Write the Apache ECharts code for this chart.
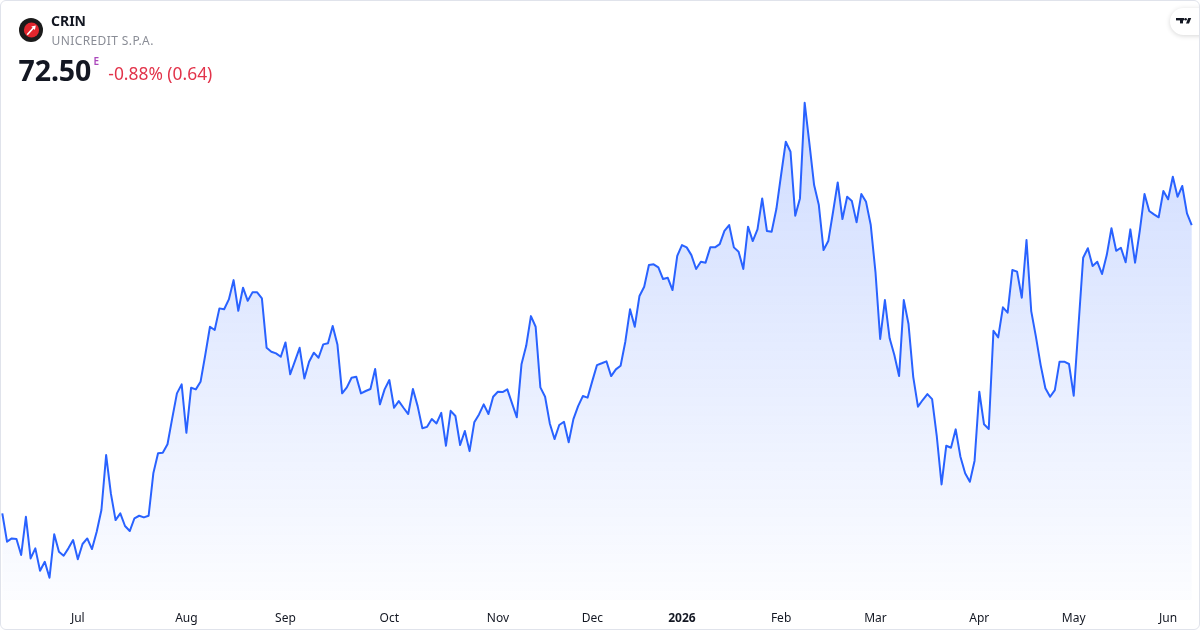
<!DOCTYPE html>
<html>
<head>
<meta charset="utf-8">
<script src="https://cdn.jsdelivr.net/npm/echarts@6/dist/echarts.min.js"></script>
<style>
  html, body { margin: 0; padding: 0; background: #ffffff; }
  #wrap { position: relative; width: 1200px; height: 630px; overflow: hidden; font-family: "Noto Sans", "Open Sans", sans-serif; }
  #chart { position: absolute; left: 0; top: 0; width: 1200px; height: 630px; }
  #frame { position: absolute; left: 0; top: 0; width: 1198px; height: 628px; border: 1px solid #e0e3eb; border-radius: 6px; pointer-events: none; }
  .t { position: absolute; white-space: nowrap; line-height: 1; }
  #logo { position: absolute; left: 19px; top: 18px; width: 24px; height: 24px; }
  #tv { position: absolute; left: 1170px; top: 8px; width: 50px; height: 27px; border-radius: 14px; background: #fff; box-shadow: 0 1px 5px rgba(0,0,0,0.16); }
</style>
</head>
<body>
<div id="wrap">
  <div id="chart"></div>
  <div id="logo">
    <svg width="24" height="24" viewBox="0 0 24 24">
      <circle cx="12" cy="12" r="12" fill="#1b1b1b"/>
      <circle cx="12.5" cy="12" r="7.6" fill="#e1262d"/>
      <polygon points="7.6,16.2 13.6,9.6 12.2,8.6 16.8,7.4 15.9,11.9 14.7,10.8 8.8,17.3" fill="#ffffff"/>
    </svg>
  </div>
  <div id="tv">
    <svg width="30" height="27" viewBox="0 0 30 27">
      <rect x="6" y="10" width="8" height="2.4" fill="#131722"/>
      <rect x="10" y="10" width="3" height="5.4" fill="#131722"/>
      <circle cx="15.6" cy="11.2" r="1.3" fill="#131722"/>
      <polygon points="18.2,10 21.2,10 19,15.4 16,15.4" fill="#131722"/>
    </svg>
  </div>
  <div class="t" id="sym" style="left:51px;top:13.6px;font-size:14px;font-weight:700;color:#131722;"></div>
  <div class="t" id="name" style="left:51.5px;top:35px;font-size:12px;color:#8a8d96;letter-spacing:0.4px;"></div>
  <div class="t" id="price" style="left:18.5px;top:56.3px;font-size:28.5px;font-weight:700;color:#131722;letter-spacing:-0.1px;"></div>
  <div class="t" id="flag" style="left:93.5px;top:56px;font-size:10px;font-weight:600;color:#ab47bc;"></div>
  <div class="t" id="chg" style="left:108.3px;top:65.4px;font-size:17.4px;color:#e2334a;"></div>
  <div id="frame"></div>
</div>
<script>
// ---- header texts ----
const symbol = 'CRIN';
const companyName = 'UNICREDIT S.P.A.';
const lastPrice = '72.50';
const priceFlag = 'E';
const changeText = '-0.88% (0.64)';

// ---- x-axis month ticks (index into the trading-day series) ----
const tickIndex  = [16, 39, 60, 82, 105, 125, 144, 165, 185, 207, 227, 247];
const tickLabels = ['Jul', 'Aug', 'Sep', 'Oct', 'Nov', 'Dec', '2026', 'Feb', 'Mar', 'Apr', 'May', 'Jun'];

// ---- daily closes ----
const prices = [
  56.48, 54.91, 55.09, 55.06, 54.17, 56.29, 53.98, 54.54, 53.29, 53.79,
  52.91, 55.32, 54.35, 54.13, 54.54, 55.00, 53.93, 54.78, 55.09, 54.50,
  55.46, 56.67, 59.72, 57.59, 56.11, 56.48, 55.78, 55.50, 56.21, 56.35,
  56.26, 56.35, 58.71, 59.82, 59.85, 60.32, 61.76, 63.15, 63.65, 60.96,
  63.46, 63.37, 63.79,
  65.28, 66.85, 66.67, 67.87, 67.82, 68.37, 69.44, 67.74, 69.02, 68.29,
  68.76, 68.76, 68.43, 65.68, 65.46, 65.37, 65.18, 65.98, 64.21, 64.94,
  65.68, 63.98, 64.91, 65.41, 65.13, 65.87, 65.93, 66.89, 65.87, 63.15,
  63.48, 64.02, 64.07, 63.15, 63.28, 63.39, 64.50, 62.54,
  63.37, 63.89, 62.35, 62.72, 62.35, 62.00, 63.39, 62.44, 61.21, 61.29,
  61.72, 61.48, 62.07, 60.24, 62.18, 61.89, 60.28, 61.06, 59.94, 61.54,
  61.98, 62.54, 62.00, 62.96, 63.24, 63.22, 63.37, 62.59, 61.82, 64.76,
  65.79, 67.44, 66.85, 63.48, 62.96, 61.48, 60.61, 61.39,
  61.57, 60.43, 61.72, 62.44, 63.00, 62.91, 63.83, 64.72, 64.82, 64.93,
  64.11, 64.48, 64.68, 66.02, 67.82, 66.85, 68.56, 69.07, 70.28, 70.32,
  70.15, 69.50, 69.57, 68.89, 70.79, 71.39, 71.26, 70.83, 70.06, 70.46,
  70.41, 71.26, 71.26, 71.44, 72.18, 72.50, 71.26, 71.02,
  70.06, 72.41, 71.61, 72.26, 73.98, 72.17, 72.13, 73.39, 75.28, 77.13,
  76.57, 73.02, 73.98, 79.29, 77.04, 74.72, 73.61, 71.11, 71.61, 73.21,
  74.87, 72.83, 74.07, 73.83, 72.65, 74.22, 73.79, 72.50,
  69.89, 66.17, 68.33, 66.21, 65.28, 64.11, 68.33, 67.00, 64.07, 62.41,
  62.78, 63.11, 62.83, 60.74, 58.09, 60.24, 60.13, 61.15, 59.63, 58.71,
  58.24, 59.41, 63.24, 61.43, 61.17, 66.63, 66.26, 67.93, 67.63, 70.00,
  69.91, 68.46, 71.67, 67.72, 66.29, 64.72, 63.43, 62.96, 63.33, 64.91,
  64.91, 64.78, 63.02, 66.85, 70.68, 71.21, 70.22, 70.46, 69.78, 70.83,
  72.32, 71.07, 71.24, 70.43, 72.26, 70.41, 72.18, 74.22, 73.28, 73.09,
  72.93, 74.39, 73.93, 75.18, 74.07, 74.67, 73.15, 72.50
];

// value range shown on the (hidden) price axis
const yMin = 51.67;
const yMax = 82.78;

document.getElementById('sym').textContent = symbol;
document.getElementById('name').textContent = companyName;
document.getElementById('price').textContent = lastPrice;
document.getElementById('flag').textContent = priceFlag;
document.getElementById('chg').textContent = changeText;

const categories = prices.map((_, i) => i);
const tickMap = {};
tickIndex.forEach((idx, k) => { tickMap[idx] = tickLabels[k]; });

const chart = echarts.init(document.getElementById('chart'), null, { renderer: 'canvas' });
chart.setOption({
  animation: false,
  backgroundColor: 'transparent',
  grid: { left: 2.3, right: 8.3, top: 40, bottom: 30, containLabel: false },
  xAxis: {
    type: 'category',
    data: categories,
    boundaryGap: false,
    axisLine: { show: false },
    axisTick: { show: false },
    splitLine: { show: false },
    axisLabel: {
      interval: (index) => tickMap[index] !== undefined,
      formatter: (value, index) => {
        const lab = tickMap[index];
        if (lab === undefined) return '';
        return /^\d{4}$/.test(lab) ? '{y|' + lab + '}' : lab;
      },
      margin: 13,
      color: '#131722',
      fontSize: 12,
      fontFamily: '"Noto Sans", sans-serif',
      rich: { y: { fontWeight: 'bold', fontSize: 12, color: '#131722', fontFamily: '"Noto Sans", sans-serif' } }
    }
  },
  yAxis: {
    type: 'value',
    min: yMin,
    max: yMax,
    show: false,
    splitLine: { show: false }
  },
  series: [{
    type: 'line',
    data: prices,
    showSymbol: false,
    symbol: 'none',
    smooth: false,
    lineStyle: { color: '#2962FF', width: 2, join: 'round' },
    areaStyle: {
      color: new echarts.graphic.LinearGradient(0, 0, 0, 1, [
        { offset: 0, color: 'rgba(41, 98, 255, 0.32)' },
        { offset: 1, color: 'rgba(41, 98, 255, 0.02)' }
      ])
    }
  }]
});
</script>
</body>
</html>
